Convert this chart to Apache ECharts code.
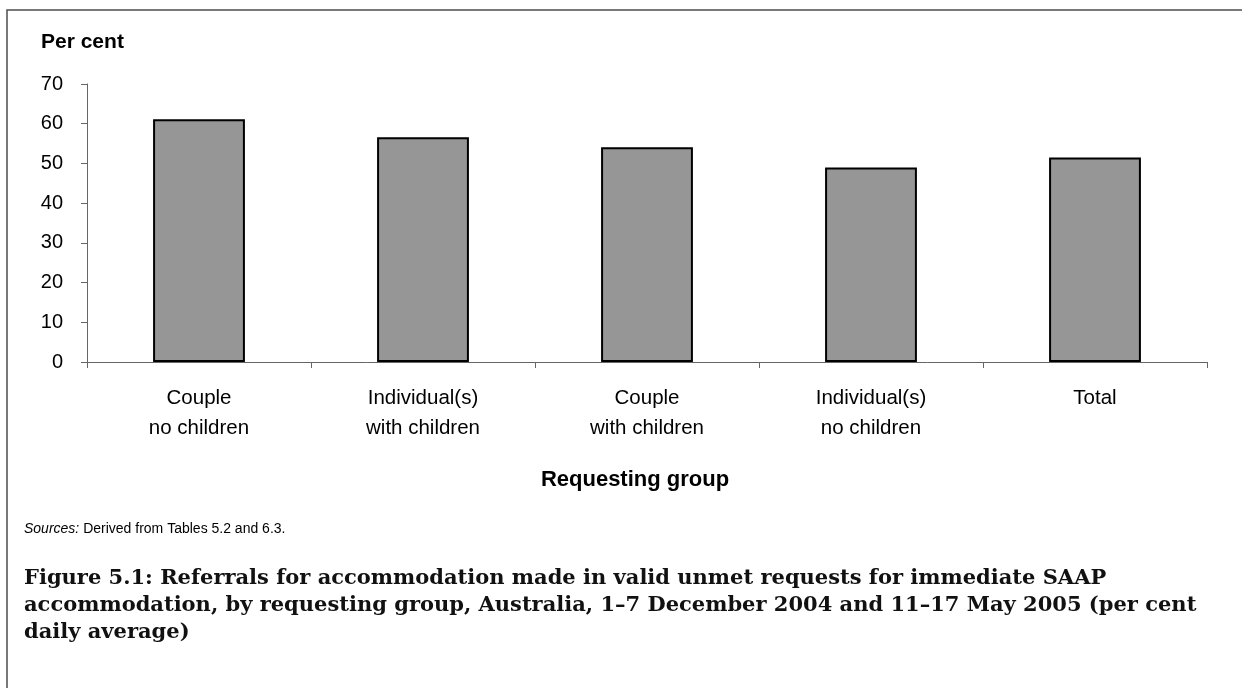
<!DOCTYPE html>
<html>
<head>
<meta charset="utf-8">
<script src="https://cdn.jsdelivr.net/npm/echarts@6/dist/echarts.min.js"></script>
<style>
  html, body { margin: 0; padding: 0; background: #fff; }
  #chart { width: 1242px; height: 688px; }
</style>
</head>
<body>
<div id="chart"></div>
<script>
// data
const groups = ['Couple\nno children', 'Individual(s)\nwith children', 'Couple\nwith children', 'Individual(s)\nno children', 'Total']
const perCent = [61.1, 56.6, 54.1, 49.0, 51.5]
const yTicks = { min: 0, max: 70, step: 10 }

const chart = echarts.init(document.getElementById('chart'))

const font = 'Arial, "Liberation Sans", sans-serif'

const option = {
  animation: false,
  backgroundColor: '#fff',
  graphic: [
    {
      type: 'rect',
      shape: { x: 7, y: 10, width: 1400, height: 800 },
      style: { fill: 'none', stroke: '#4d4d4d', lineWidth: 1.5 },
      silent: true
    }
  ],
  title: [
    {
      text: 'Per cent',
      left: 41, top: 32, padding: 0,
      textStyle: { fontFamily: font, fontSize: 21, fontWeight: 'bold', color: '#000' }
    },
    {
      text: 'Requesting group',
      left: 635, top: 469, padding: 0, textAlign: 'center',
      textStyle: { fontFamily: font, fontSize: 22, fontWeight: 'bold', color: '#000' }
    },
    {
      text: '{i|Sources:} Derived from Tables 5.2 and 6.3.',
      left: 24, top: 522, padding: 0,
      textStyle: {
        fontFamily: font, fontSize: 14, fontWeight: 'normal', color: '#000',
        rich: { i: { fontFamily: font, fontSize: 14, fontStyle: 'italic', fontWeight: 'normal', color: '#000' } }
      }
    },
    {
      text: 'Figure 5.1: Referrals for accommodation made in valid unmet requests for immediate SAAP\naccommodation, by requesting group, Australia, 1–7 December 2004 and 11–17 May 2005 (per cent\ndaily average)',
      left: 24, top: 565, padding: 0,
      textStyle: {
        fontFamily: '"DejaVu Serif", serif',
        fontSize: 21, fontWeight: 'bold', color: '#111', lineHeight: 27
      }
    }
  ],
  grid: { left: 87, right: 35, top: 84, bottom: 326, containLabel: false },
  xAxis: {
    type: 'category',
    data: groups,
    axisLine: { lineStyle: { color: '#666', width: 1 } },
    axisTick: { show: true, alignWithLabel: false, length: 6, lineStyle: { color: '#666' } },
    axisLabel: { fontFamily: font, fontSize: 20.5, color: '#000', lineHeight: 30, margin: 21 },
    splitLine: { show: false }
  },
  yAxis: {
    type: 'value',
    min: yTicks.min, max: yTicks.max, interval: yTicks.step,
    axisLine: { show: true, lineStyle: { color: '#666', width: 1 } },
    axisTick: { show: true, length: 6, lineStyle: { color: '#666' } },
    axisLabel: { fontFamily: font, fontSize: 20, color: '#000', margin: 24 },
    splitLine: { show: false }
  },
  series: [
    {
      type: 'bar',
      data: perCent,
      barWidth: '41%',
      itemStyle: { color: '#969696', borderColor: '#000', borderWidth: 2 }
    }
  ]
}

chart.setOption(option)
</script>
</body>
</html>
